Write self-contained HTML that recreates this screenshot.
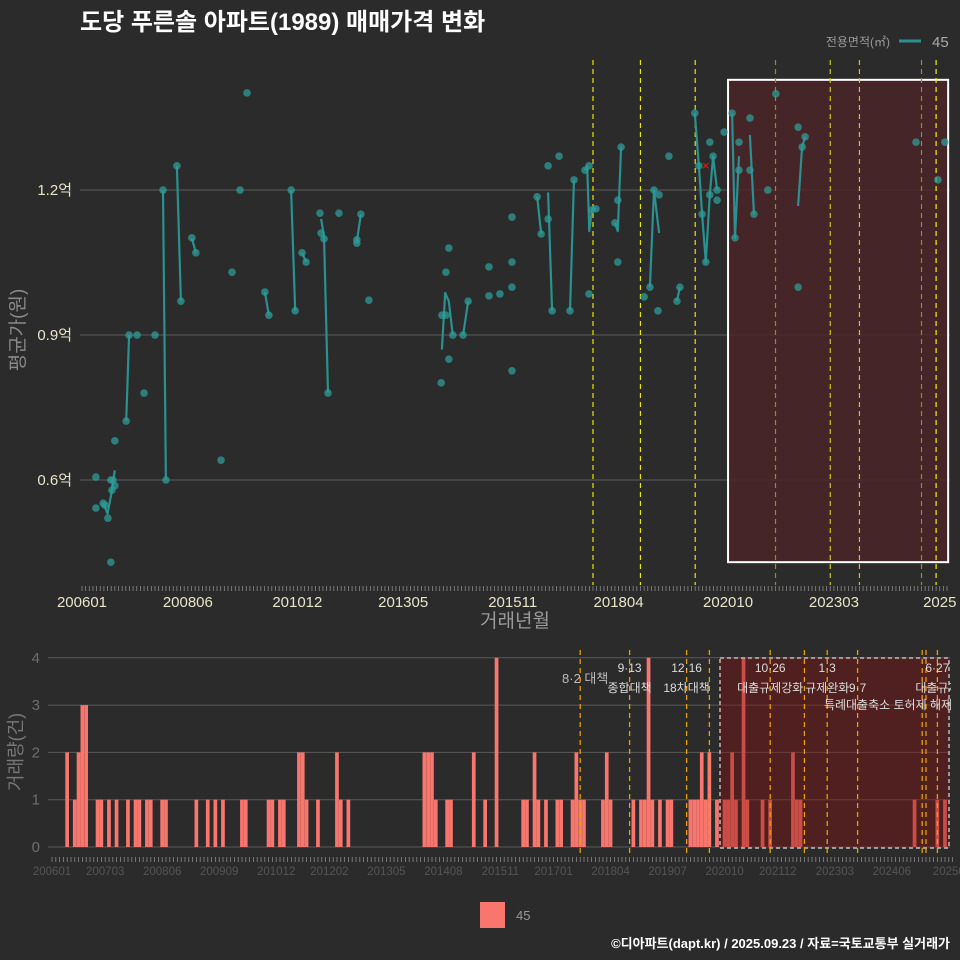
<!DOCTYPE html>
<html><head><meta charset="utf-8">
<style>
html,body{margin:0;padding:0;background:#2b2b2c;}
svg{display:block;font-family:"Liberation Sans","Noto Sans CJK KR",sans-serif;}
</style></head>
<body>
<svg id="chart" width="960" height="960" viewBox="0 0 960 960" xmlns="http://www.w3.org/2000/svg">
<rect x="0" y="0" width="960" height="960" fill="#2b2b2c"/>
<text x="80" y="30" fill="#ffffff" font-size="24" font-weight="bold">도당 푸른솔 아파트(1989) 매매가격 변화</text>
<text x="890" y="46" fill="#9a9a9a" font-size="12" text-anchor="end">전용면적(㎡)</text>
<line x1="899" y1="41" x2="921" y2="41" stroke="#2a9090" stroke-width="3"/>
<text x="932" y="47" fill="#aaaaaa" font-size="15">45</text>
<g id="topPanel"></g>
<g id="botPanel"></g>
<text transform="translate(24,330) rotate(-90)" fill="#8a8a8a" font-size="19" text-anchor="middle">평균가(원)</text>
<text x="515" y="627" fill="#9a9a9a" font-size="19" text-anchor="middle">거래년월</text>
<text transform="translate(22,752) rotate(-90)" fill="#777777" font-size="18" text-anchor="middle">거래량(건)</text>
<rect x="480" y="902" width="25" height="26" fill="#f8766d"/>
<text x="516" y="920" fill="#999999" font-size="13">45</text>
<text x="950" y="948" fill="#ffffff" font-size="13" font-weight="bold" text-anchor="end">©디아파트(dapt.kr) / 2025.09.23 / 자료=국토교통부 실거래가</text>
</svg>
<script>
// ---- data ----
const topTickLabels = ["200601","200806","201012","201305","201511","201804","202010","202303","2025"];
const topTickMonths = [0,29,59,88,118,147,177,206,235];
const yTickValues = [0.6,0.9,1.2];
const yTickLabels = ["0.6억","0.9억","1.2억"];
const pointMonths = [3.8,3.8,5.8,6.3,7.1,7.9,7.9,8.5,8.2,9,9,12.1,12.9,15.1,20,17,22.2,23,26,27.1,30.1,31.2,38.1,41.1,43.3,45.2,50.1,51.2,57.3,58.4,60.3,61.4,65.2,65.5,66.3,67.4,70.4,75.3,75.3,76.4,78.6,
98.6,99.7,98.4,99.7,100.5,100.5,101.6,104.4,105.8,111.5,111.5,114.5,117.8,117.8,117.8,117.8,124.7,125.8,127.7,127.7,128.8,130.7,134.8,133.7,137.8,138.9,139.7,140.8,138.9,147.7,146.8,146,146.8,155.6,156.7,158.1,154,157.8,160.8,163,163.8,167.9,169,169.9,170.9,172,172.9,174,174,172,
175.9,178.1,178.9,180,180,183,183,184.1,187.9,190.1,196.2,198.1,197.3,196.2,228.5,236.4,234.5];
const pointValues = [0.606,0.542,0.552,0.548,0.521,0.43,0.6,0.6,0.579,0.588,0.681,0.722,0.9,0.9,0.9,0.78,1.2,0.6,1.25,0.97,1.101,1.07,0.641,1.03,1.2,1.401,0.989,0.941,1.2,0.95,1.07,1.051,1.152,1.111,1.099,0.78,1.152,1.097,1.09,1.15,0.972,
0.941,0.941,0.801,1.03,1.08,0.85,0.9,0.9,0.97,1.041,0.981,0.985,1.144,1.051,0.999,0.826,1.186,1.109,1.25,1.14,0.95,1.27,1.221,0.95,1.241,1.25,1.159,1.161,0.985,1.289,1.179,1.132,1.051,0.999,1.2,1.19,0.979,0.95,1.27,0.97,0.999,1.359,1.25,1.15,1.051,1.19,1.27,1.2,1.179,1.299,
1.32,1.359,1.101,1.299,1.241,1.349,1.241,1.15,1.2,1.399,1.33,1.31,1.289,0.999,1.299,1.299,1.221];
const lineMonths = [6,7,8,9,null,12.1,12.9,null,22.2,23,null,26,27.1,null,30.1,31.2,null,50.1,51.2,null,57.3,58.4,null,60.3,61.4,null,65.5,66.3,67.4,null,75.3,76.4,null,
98.6,99.5,100.5,101.6,null,104.4,105.8,null,124.7,125.8,null,127.7,128.8,null,133.7,134.8,null,137.8,138.4,139,139.7,140.8,null,146,146.8,147.7,null,155.6,156.7,158.1,null,163,163.8,null,
167.9,169,169.9,170.9,172,172.9,174,null,178.1,178.9,180,null,183,184.1,null,196.2,197.3,198.1];
const lineValues = [0.55,0.53,0.57,0.62,null,0.722,0.9,null,1.2,0.6,null,1.25,0.97,null,1.1,1.07,null,0.989,0.941,null,1.2,0.95,null,1.07,1.051,null,1.14,1.105,0.78,null,1.093,1.15,null,
0.87,0.987,0.97,0.9,null,0.9,0.97,null,1.186,1.109,null,1.195,0.95,null,0.95,1.221,null,1.241,1.25,1.115,1.16,1.161,null,1.132,1.115,1.289,null,0.999,1.2,1.111,null,0.97,0.999,null,
1.359,1.25,1.15,1.051,1.19,1.27,1.2,null,1.359,1.101,1.27,null,1.314,1.15,null,1.167,1.289,1.31];
const topEventMonths = [140,153,168,190,205,213,230,234];
const topEventColors = ["#e6e600","#e6e600","#e6e600","#8f8f2a","#c8c820","#c8c820","#8f8f2a","#f0f000"];
const barMonths = [4,6,7,8,9,12,13,15,17,20,22,23,25,26,29,30,38,41,43,45,50,51,57,58,60,61,65,66,67,70,75,76,78,98,99,100,101,104,105,111,
114,117,124,125,127,128,130,133,134,137,138,139,140,145,146,147,153,155,156,157,158,160,162,163,168,169,170,171,172,173,175,177,178,179,180,182,183,187,189,195,196,197,227,233,235];
const barCounts = [2,1,2,3,3,1,1,1,1,1,1,1,1,1,1,1,1,1,1,1,1,1,1,1,1,1,2,2,1,1,2,1,1,2,2,2,1,1,1,2,
1,4,1,1,2,1,1,1,1,1,2,1,1,1,2,1,1,1,1,4,1,1,1,1,1,1,1,2,1,2,1,1,1,2,1,4,1,1,1,2,1,1,1,1,1];
const botTickLabels = ["200601","200703","200806","200909","201012","201202","201305","201408","201511","201701","201804","201907","202010","202112","202303","202406","20250"];
const botTickMonths = [0,14,29,44,59,73,88,103,118,132,147,162,177,191,206,221,236];
const volTicks = [0,1,2,3,4];
const botEventMonths = [139,152,167,173,189,198,204,212,229,230,233];
const botEventLabelsTop = ["","9·13","12·16","","10·26","","1·3","","","","6·27"];
const botEventLabelsMid = ["","종합대책","18차대책","","대출규제강화","","규제완화","9·7","","","대출규제"];

// ---- scales ----
const NS="http://www.w3.org/2000/svg";
const tx = m => 82 + m*3.65;
const ty = v => 480 - (v-0.6)*483.3;
const bx = m => 52 + m*3.8;
const by = c => 847 - c*47.3;
function mk(tag, attrs, parent){const e=document.createElementNS(NS,tag);for(const k in attrs)e.setAttribute(k,attrs[k]);parent.appendChild(e);return e;}
const topG=document.getElementById('topPanel'), botG=document.getElementById('botPanel');

yTickValues.forEach((v,i)=>{
  const g=mk('line',{x1:80,x2:950,y1:ty(v),y2:ty(v),stroke:'#5e5e5e','stroke-width':1},topG);
  
  
  const t=mk('text',{x:72,y:ty(v)+5,fill:'#e8e4c8','font-size':15,'text-anchor':'end'},topG);
  t.textContent=yTickLabels[i];
  
  
});
const sh=mk('rect',{x:tx(177),y:ty(1.428),width:tx(237.3)-tx(177),height:ty(0.43)-ty(1.428),fill:'#4a2427',stroke:'#ffffff','stroke-width':2,'fill-opacity':0.85},topG);


topEventMonths.forEach((m,i)=>{
  const l=mk('line',{x1:tx(m),x2:tx(m),y1:60,y2:585,stroke:topEventColors[i],'stroke-width':1.2,'stroke-dasharray':'5,4'},topG);
  
  
});
for(let m=0;m<=237;m++){
  const k=mk('line',{x1:tx(m),x2:tx(m),y1:586,y2:591,stroke:'#8a8a8a','stroke-width':0.8},topG);
  
  
}
topTickLabels.forEach((s,i)=>{
  const t=mk('text',{x:tx(topTickMonths[i]),y:607,fill:'#e8e4c8','font-size':15,'text-anchor':'middle'},topG);
  t.textContent=s;
  
  
});
let d='', pen=false;
lineMonths.forEach((m,i)=>{
  if(m===null){pen=false;return;}
  d+=(pen?'L':'M')+tx(m).toFixed(1)+','+ty(lineValues[i]).toFixed(1);
  pen=true;
});
const pl=mk('path',{d:d,fill:'none',stroke:'#2a9090','stroke-width':2.2,'stroke-linejoin':'round'},topG);


pointMonths.forEach((m,i)=>{
  const c=mk('circle',{cx:tx(m),cy:ty(pointValues[i]),r:3.8,fill:'#2e9c98','fill-opacity':0.75},topG);
  
  
});
const xm=mk('text',{x:tx(170.9),y:ty(1.25)+4,fill:'#e02020','font-size':13,'text-anchor':'middle'},topG);
xm.textContent='×';



volTicks.forEach(c=>{
  const g=mk('line',{x1:48,x2:950,y1:by(c),y2:by(c),stroke:'#5a5a5a','stroke-width':1},botG);
  
  
  const t=mk('text',{x:40,y:by(c)+5,fill:'#6e6e6e','font-size':15,'text-anchor':'end'},botG);
  t.textContent=String(c);
  
  
});
barMonths.forEach((m,i)=>{
  const r=mk('rect',{x:bx(m)-1.9,y:by(barCounts[i]),width:3.7,height:barCounts[i]*47.3,fill:'#f8766d'},botG);
  
  
});
const bs=mk('rect',{x:720,y:658,width:229,height:190,fill:'#8a1010','fill-opacity':0.4,stroke:'#bbbbbb','stroke-width':1.5,'stroke-dasharray':'4,3'},botG);


botEventMonths.forEach((m,i)=>{
  const l=mk('line',{x1:bx(m),x2:bx(m),y1:650,y2:856,stroke:'#e6a000','stroke-width':1.3,'stroke-dasharray':'5,4'},botG);
  
  
  if(botEventLabelsTop[i]){
    const t=mk('text',{x:bx(m),y:672,fill:'#dddddd','font-size':12,'text-anchor':'middle'},botG);
    t.textContent=botEventLabelsTop[i];
    
    
  }
  if(botEventLabelsMid[i]){
    const t=mk('text',{x:bx(m),y:692,fill:'#dddddd','font-size':12,'text-anchor':'middle'},botG);
    t.textContent=botEventLabelsMid[i];
    
    
  }
});
const e82=mk('text',{x:bx(139)+5,y:683,fill:'#bbbbbb','font-size':13,'text-anchor':'middle'},botG);
e82.textContent='8·2 대책';


const ex=mk('text',{x:888,y:709,fill:'#dddddd','font-size':12,'text-anchor':'middle'},botG);
ex.textContent='특례대출축소 토허제 해제';


const cover=mk('rect',{x:951,y:640,width:9,height:210,fill:'#2b2b2c'},botG);


for(let m=0;m<=237;m++){
  const k=mk('line',{x1:bx(m),x2:bx(m),y1:857,y2:862,stroke:'#888888','stroke-width':0.8},botG);
  
  
}
botTickLabels.forEach((s,i)=>{
  const t=mk('text',{x:bx(botTickMonths[i]),y:875,fill:'#555555','font-size':11.5,'text-anchor':'middle'},botG);
  t.textContent=s;
  
  
});
</script>
</body></html>
